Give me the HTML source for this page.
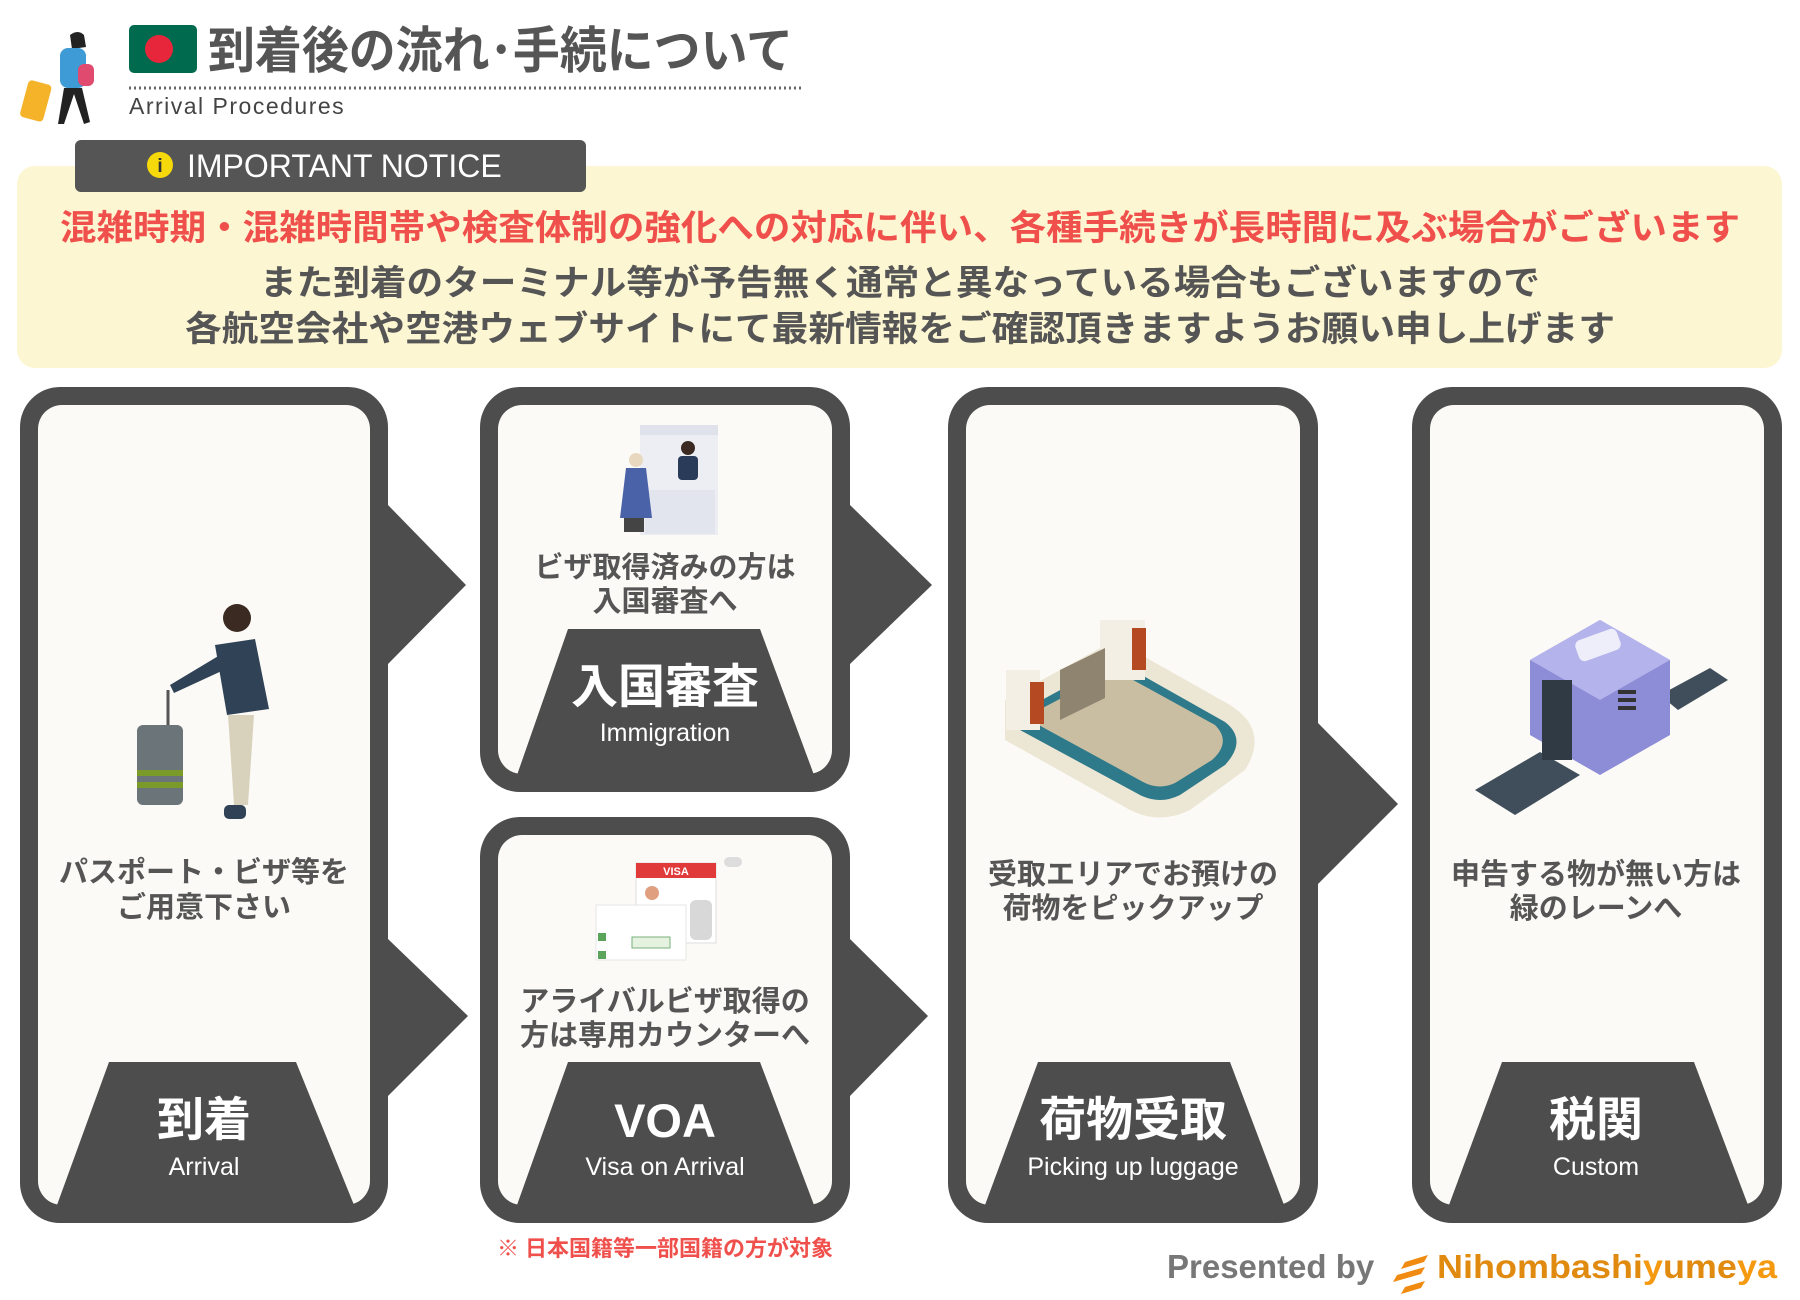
<!DOCTYPE html>
<html><head><meta charset="utf-8"><style>
html,body{margin:0;padding:0;background:#fff;width:1800px;height:1300px;overflow:hidden}
svg{display:block}
text{font-family:"Liberation Sans","Noto Sans CJK JP",sans-serif}
</style></head><body>
<svg width="1800" height="1300" viewBox="0 0 1800 1300" xmlns="http://www.w3.org/2000/svg">
<!-- header figure -->
<g>
  <rect x="24" y="82" width="24" height="38" rx="4" fill="#f5b32a" transform="rotate(15 36 100)"/>
  <path d="M70 35 q8 -6 14 0 l2 12 -14 2z" fill="#222"/>
  <rect x="60" y="48" width="26" height="40" rx="8" fill="#3f9bd6"/>
  <rect x="78" y="64" width="16" height="22" rx="6" fill="#e04a6e"/>
  <path d="M64 88 l-6 36 6 0 10 -30 10 30 6 -2 -8 -34z" fill="#222"/>
</g>
<!-- flag -->
<rect x="129" y="25" width="68" height="48" rx="5" fill="#006a4e"/>
<circle cx="159" cy="49" r="14" fill="#e8263b"/>
<text x="208" y="68" font-size="50" fill="#555" font-weight="bold" textLength="585" lengthAdjust="spacingAndGlyphs">到着後の流れ･手続について</text>
<line x1="129" y1="88" x2="804" y2="88" stroke="#666" stroke-width="3" stroke-dasharray="2 3"/>
<text x="129" y="114" font-size="23" fill="#444" letter-spacing="1.5">Arrival Procedures</text>
<!-- notice -->
<rect x="17" y="166" width="1765" height="202" rx="18" fill="#fdf6d2"/>
<rect x="75" y="140" width="511" height="52" rx="6" fill="#555"/>
<circle cx="160" cy="165" r="13" fill="#f5d90a"/>
<text x="160" y="172" font-size="19" fill="#333" text-anchor="middle" font-weight="bold">i</text>
<text x="187" y="177" font-size="32" fill="#fff">IMPORTANT NOTICE</text>
<text x="900" y="240" font-size="35" fill="#f0504c" font-weight="bold" text-anchor="middle" textLength="1680" lengthAdjust="spacingAndGlyphs">混雑時期・混雑時間帯や検査体制の強化への対応に伴い、各種手続きが長時間に及ぶ場合がございます</text>
<text x="900" y="295" font-size="35" fill="#555" font-weight="bold" text-anchor="middle" textLength="1280" lengthAdjust="spacingAndGlyphs">また到着のターミナル等が予告無く通常と異なっている場合もございますので</text>
<text x="900" y="341" font-size="35" fill="#555" font-weight="bold" text-anchor="middle" textLength="1430" lengthAdjust="spacingAndGlyphs">各航空会社や空港ウェブサイトにて最新情報をご確認頂きますようお願い申し上げます</text>

<!-- arrows -->
<g fill="#4d4d4d">
<polygon points="388,505 466,585 388,664"/>
<polygon points="388,939 468,1016 388,1096"/>
<polygon points="850,505 932,585 850,664"/>
<polygon points="850,939 928,1016 850,1096"/>
<polygon points="1318,723 1398,804 1318,884"/>
</g>

<!-- panels -->
<g>
<rect x="20" y="387" width="368" height="836" rx="40" fill="#4d4d4d"/>
<rect x="38" y="405" width="332" height="800" rx="24" fill="#fcfaf6"/>
<polygon points="109,1062 296,1062 354,1205 57,1205" fill="#4d4d4d"/>

<rect x="480" y="387" width="370" height="405" rx="40" fill="#4d4d4d"/>
<rect x="498" y="405" width="334" height="369" rx="24" fill="#fcfaf6"/>
<polygon points="568,629 760,629 814,775 517,775" fill="#4d4d4d"/>

<rect x="480" y="817" width="370" height="406" rx="40" fill="#4d4d4d"/>
<rect x="498" y="835" width="334" height="370" rx="24" fill="#fcfaf6"/>
<polygon points="568,1062 760,1062 814,1205 517,1205" fill="#4d4d4d"/>

<rect x="948" y="387" width="370" height="836" rx="40" fill="#4d4d4d"/>
<rect x="966" y="405" width="334" height="800" rx="24" fill="#fcfaf6"/>
<polygon points="1038,1062 1230,1062 1284,1205 985,1205" fill="#4d4d4d"/>

<rect x="1412" y="387" width="370" height="836" rx="40" fill="#4d4d4d"/>
<rect x="1430" y="405" width="334" height="800" rx="24" fill="#fcfaf6"/>
<polygon points="1502,1062 1694,1062 1748,1205 1449,1205" fill="#4d4d4d"/>
</g>

<!-- person -->
<g>
<rect x="137" y="725" width="46" height="80" rx="6" fill="#6b7478"/>
<rect x="137" y="770" width="46" height="6" fill="#7a9a2a"/>
<rect x="137" y="782" width="46" height="6" fill="#7a9a2a"/>
<line x1="168" y1="690" x2="168" y2="725" stroke="#555" stroke-width="3"/>
<circle cx="237" cy="618" r="14" fill="#3a2a22"/>
<path d="M215 645 l40 -6 14 70 -42 6z" fill="#2f4256"/>
<path d="M228 715 l26 0 -6 90 -14 0z" fill="#d8d2bd"/>
<path d="M220 655 l-50 30 4 8 52 -24z" fill="#2f4256"/>
<rect x="224" y="805" width="22" height="14" rx="5" fill="#2f4256"/>
</g>
<!-- immigration booth -->
<g>
<rect x="640" y="425" width="78" height="110" fill="#eceef3"/>
<rect x="640" y="425" width="78" height="10" fill="#dfe2ea"/>
<rect x="645" y="490" width="70" height="44" fill="#e2e5ee"/>
<circle cx="688" cy="448" r="7" fill="#3a2a22"/>
<rect x="678" y="456" width="20" height="24" rx="4" fill="#2a3b5a"/>
<circle cx="636" cy="460" r="7" fill="#e8d8c0"/>
<path d="M626 468 l20 0 6 50 -32 0z" fill="#4a63a8"/>
<rect x="624" y="518" width="20" height="14" fill="#444"/>
</g>
<!-- visa -->
<g>
<rect x="636" y="863" width="80" height="80" fill="#fff" stroke="#ddd"/>
<rect x="636" y="863" width="80" height="15" fill="#e03a3a"/>
<text x="676" y="875" font-size="11" fill="#fff" text-anchor="middle" font-weight="bold">VISA</text>
<circle cx="652" cy="893" r="7" fill="#e0a080"/>
<rect x="596" y="905" width="90" height="55" fill="#fff" stroke="#e6e6e6"/>
<rect x="598" y="933" width="8" height="8" fill="#5aa55a"/>
<rect x="598" y="951" width="8" height="8" fill="#5aa55a"/>
<rect x="632" y="937" width="38" height="11" fill="#e6f2e0" stroke="#7ab07a"/>
<rect x="690" y="900" width="22" height="40" rx="6" fill="#d8d8d8"/>
<rect x="724" y="857" width="18" height="10" rx="5" fill="#ddd"/>
</g>
<!-- carousel -->
<g>
<path d="M1005 700 L1115 640 L1230 705 Q1270 730 1245 770 L1190 810 Q1160 825 1130 810 L1005 740z" fill="#ece6d4"/>
<path d="M1020 712 L1115 660 L1225 722 Q1248 740 1225 765 L1180 795 Q1160 805 1140 795 L1020 730z" fill="#2f7a8a"/>
<path d="M1035 712 L1115 670 L1215 725 Q1232 742 1212 760 L1175 783 Q1160 790 1145 783 L1035 723z" fill="#c9bea2"/>
<rect x="1006" y="670" width="34" height="60" fill="#f3efe4"/>
<rect x="1030" y="682" width="14" height="42" fill="#b54a22"/>
<rect x="1100" y="620" width="45" height="60" fill="#f3efe4"/>
<rect x="1132" y="628" width="14" height="42" fill="#b54a22"/>
<polygon points="1060,670 1105,648 1105,698 1060,720" fill="#8e8470"/>
</g>
<!-- scanner -->
<g>
<polygon points="1475,790 1540,752 1580,775 1515,815" fill="#3f4e5a"/>
<polygon points="1660,695 1710,668 1728,680 1678,710" fill="#3f4e5a"/>
<polygon points="1530,660 1600,620 1670,660 1670,735 1600,775 1530,735" fill="#8d8cd6"/>
<polygon points="1530,660 1600,620 1670,660 1600,700" fill="#b4b3ec"/>
<rect x="1576" y="634" width="44" height="22" rx="6" fill="#eeeefa" transform="rotate(-20 1598 645)"/>
<rect x="1542" y="680" width="30" height="80" fill="#2f3a44"/>
<rect x="1618" y="690" width="18" height="4" fill="#333"/>
<rect x="1618" y="698" width="18" height="4" fill="#333"/>
<rect x="1618" y="706" width="18" height="4" fill="#333"/>
</g>

<!-- descriptions -->
<g font-size="29" fill="#555" font-weight="bold" text-anchor="middle">
<text x="204" y="882">パスポート・ビザ等を</text>
<text x="204" y="917">ご用意下さい</text>
<text x="665" y="577">ビザ取得済みの方は</text>
<text x="665" y="611">入国審査へ</text>
<text x="665" y="1011">アライバルビザ取得の</text>
<text x="665" y="1045">方は専用カウンターへ</text>
<text x="1133" y="884">受取エリアでお預けの</text>
<text x="1133" y="918">荷物をピックアップ</text>
<text x="1596" y="884">申告する物が無い方は</text>
<text x="1596" y="918">緑のレーンへ</text>
</g>
<!-- labels -->
<g fill="#fff" text-anchor="middle">
<g font-size="47" font-weight="bold">
<text x="204" y="1136">到着</text>
<text x="665" y="703">入国審査</text>
<text x="665" y="1137">VOA</text>
<text x="1133" y="1136">荷物受取</text>
<text x="1596" y="1136">税関</text>
</g>
<g font-size="25">
<text x="204" y="1175">Arrival</text>
<text x="665" y="741">Immigration</text>
<text x="665" y="1175">Visa on Arrival</text>
<text x="1133" y="1175">Picking up luggage</text>
<text x="1596" y="1175">Custom</text>
</g>
</g>
<text x="665" y="1256" font-size="22" fill="#f0504c" font-weight="bold" text-anchor="middle">※ 日本国籍等一部国籍の方が対象</text>
<text x="1167" y="1278" font-size="33" fill="#777" font-weight="bold">Presented by</text>
<g fill="#f08a10"><polygon points="1405,1262 1428,1255 1424,1262 1401,1269"/><polygon points="1397,1275 1425,1267 1421,1274 1393,1282"/><polygon points="1405,1287 1425,1281 1421,1288 1401,1294"/></g>
<text x="1437" y="1278" font-size="33" fill="#e08a10" font-weight="bold" textLength="340" lengthAdjust="spacingAndGlyphs">Nihombashi<tspan fill="#f59a10">y</tspan>ume<tspan fill="#f59a10">ya</tspan></text>
</svg>
</body></html>
